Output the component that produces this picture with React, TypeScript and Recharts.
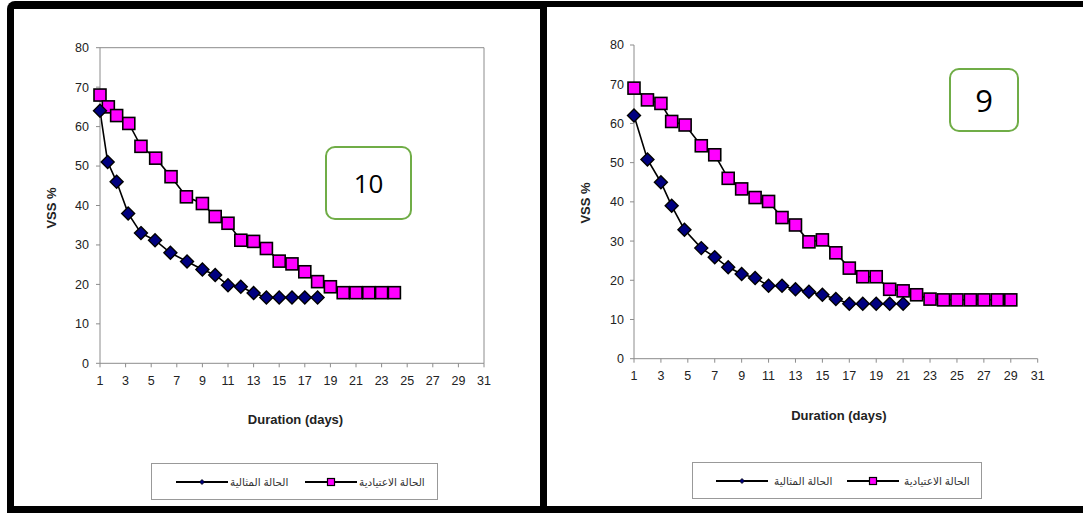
import React from 'react'
import { LineChart, Line, XAxis, YAxis, ReferenceLine } from 'recharts'

// left panel (10)
const leftOptimalDays = [1, 1.6, 2.3, 3.2, 4.2, 5.3, 6.5, 7.8, 9, 10, 11, 12, 13, 14, 15, 16, 17, 18]
const leftOptimalVss = [64, 51, 46, 38, 33, 31.2, 28, 25.8, 23.8, 22.4, 19.8, 19.4, 17.8, 16.7, 16.7, 16.7, 16.7, 16.7]
const leftNormalDays = [1, 1.65, 2.3, 3.25, 4.2, 5.35, 6.55, 7.75, 9, 10, 11, 12, 13, 14, 15, 16, 17, 18, 19, 20, 21, 22, 23, 24]
const leftNormalVss = [68, 65, 62.8, 60.8, 55, 52, 47.3, 42.2, 40.5, 37.2, 35.5, 31.2, 30.9, 29.1, 25.9, 25.2, 23.2, 20.7, 19.4, 17.9, 17.9, 17.9, 17.9, 17.9]

// right panel (9)
const rightOptimalDays = [1, 2, 3, 3.8, 4.75, 6, 7, 8, 9, 10, 11, 12, 13, 14, 15, 16, 17, 18, 19, 20, 21]
const rightOptimalVss = [62, 50.8, 45, 39, 32.9, 28.2, 25.9, 23.3, 21.6, 20.6, 18.6, 18.6, 17.7, 17.1, 16.3, 15.2, 14, 14, 14, 14, 14]
const rightNormalDays = [1, 2, 3, 3.8, 4.8, 6, 7, 8, 9, 10, 11, 12, 13, 14, 15, 16, 17, 18, 19, 20, 21, 22, 23, 24, 25, 26, 27, 28, 29]
const rightNormalVss = [69, 66, 65.1, 60.5, 59.6, 54.3, 52, 46, 43.3, 41.1, 40.1, 36, 34.1, 29.8, 30.3, 27, 23.1, 20.9, 20.9, 17.7, 17.3, 16.3, 15.2, 15, 15, 15, 15, 15, 15]

const xTicks = [1, 3, 5, 7, 9, 11, 13, 15, 17, 19, 21, 23, 25, 27, 29, 31]
const yTicks = [0, 10, 20, 30, 40, 50, 60, 70, 80]

const OPTIMAL_LABEL = 'الحالة المثالية'
const NORMAL_LABEL = 'الحالة الاعتيادية'

const PINK = '#ff00ff'
const NAVY = '#000080'
const AXIS = '#8c8c8c'
const FONT = 'Arial, "Liberation Sans", "DejaVu Sans", sans-serif'

const toPoints = (xs: number[], ys: number[]) => xs.map((x, i) => ({ x, y: ys[i] }))

const square = (props: any) => (
  <rect key={`sq-${props.index}`} x={props.cx - 6} y={props.cy - 6} width={12} height={12}
    fill={PINK} stroke="#000" strokeWidth={1.6} />
)

const diamond = (props: any) => {
  const { cx, cy } = props
  return (
    <path key={`dm-${props.index}`} d={`M${cx},${cy - 6.5}L${cx + 6.5},${cy}L${cx},${cy + 6.5}L${cx - 6.5},${cy}Z`}
      fill={NAVY} stroke="#000" strokeWidth={1.4} />
  )
}

interface PanelProps {
  left: number
  width: number
  margin: { top: number; right: number; left: number; bottom: number }
  tickMarginX: number
  tickMarginY: number
  optimal: { x: number; y: number }[]
  normal: { x: number; y: number }[]
  frame: boolean
}

function Panel({ left, width, margin, tickMarginX, tickMarginY, optimal, normal, frame }: PanelProps) {
  const tick = { fontSize: 12.5, fill: '#222', fontFamily: FONT }
  return (
    <div style={{ position: 'absolute', left, top: 0 }}>
      <LineChart width={width} height={400} margin={margin}>
        <XAxis type="number" dataKey="x" domain={[1, 31]} ticks={xTicks} interval={0}
          stroke={AXIS} tickSize={4} tickMargin={tickMarginX} height={30} tick={tick} />
        <YAxis type="number" dataKey="y" domain={[0, 80]} ticks={yTicks} interval={0}
          stroke={AXIS} tickSize={4} tickMargin={tickMarginY} width={40} tick={tick} />
        {frame && <ReferenceLine y={80} stroke={AXIS} strokeWidth={1} />}
        {frame && <ReferenceLine x={31} stroke={AXIS} strokeWidth={1} />}
        <Line data={normal} dataKey="y" stroke="#000" strokeWidth={1.6} dot={square}
          isAnimationActive={false} legendType="none" />
        <Line data={optimal} dataKey="y" stroke="#000" strokeWidth={1.6} dot={diamond}
          isAnimationActive={false} legendType="none" />
      </LineChart>
    </div>
  )
}

const textStyle: React.CSSProperties = {
  position: 'absolute', fontFamily: FONT, fontWeight: 'bold', fontSize: 13, color: '#222', whiteSpace: 'nowrap',
}

function AxisTitles({ xCx, xCy, yCx, yCy }: { xCx: number; xCy: number; yCx: number; yCy: number }) {
  return (
    <>
      <div style={{ ...textStyle, left: xCx, top: xCy, transform: 'translate(-50%, -50%)' }}>Duration (days)</div>
      <div style={{ ...textStyle, left: yCx, top: yCy, transform: 'translate(-50%, -50%) rotate(-90deg)' }}>VSS %</div>
    </>
  )
}

// offsets: [line1, text1, line2, text2] from the box's left edge
function LegendBox({ left, top, width, offsets }: { left: number; top: number; width: number; offsets: number[] }) {
  const label: React.CSSProperties = {
    position: 'absolute', top: 12, fontFamily: FONT, fontSize: 10.5, color: '#333', whiteSpace: 'nowrap', lineHeight: '12px',
  }
  const line = (x: number, marker: React.ReactNode) => (
    <svg width={52} height={10} style={{ position: 'absolute', left: x, top: 13 }}>
      <line x1={0} y1={5} x2={52} y2={5} stroke="#000" strokeWidth={2} />
      {marker}
    </svg>
  )
  return (
    <div style={{
      position: 'absolute', left, top, width, height: 37, boxSizing: 'border-box',
      border: '1px solid #999', background: '#fff',
    }}>
      {line(offsets[0], <path d="M26,2.5L28.5,5L26,7.5L23.5,5Z" fill={NAVY} stroke="#000" strokeWidth={0.8} />)}
      <span style={{ ...label, left: offsets[1] }}>{OPTIMAL_LABEL}</span>
      {line(offsets[2], <rect x={22.5} y={1.5} width={7} height={7} fill={PINK} stroke="#000" strokeWidth={1.2} />)}
      <span style={{ ...label, left: offsets[3] }}>{NORMAL_LABEL}</span>
    </div>
  )
}

function NumberBox({ left, top, width, height, text, size }: { left: number; top: number; width: number; height: number; text: string; size: number }) {
  return (
    <div style={{
      position: 'absolute', left, top, width, height, boxSizing: 'border-box',
      border: '2px solid #70ad47', borderRadius: 10, background: '#fff',
      display: 'flex', alignItems: 'center', justifyContent: 'center',
      fontFamily: '"Open Sans", sans-serif', fontSize: size, color: '#000',
    }}>{text}</div>
  )
}

export default function App() {
  return (
    <div style={{ position: 'absolute', left: 0, top: 0, width: 1083, height: 513, overflow: 'hidden', background: '#fff' }}>
      <div style={{ position: 'absolute', left: 7, top: 1, width: 1076, height: 512, background: '#000', borderTopLeftRadius: 8 }} />
      <div style={{ position: 'absolute', left: 14, top: 9, width: 526, height: 497, background: '#fff' }} />
      <div style={{ position: 'absolute', left: 547, top: 7, width: 536, height: 499, background: '#fff' }} />

      <Panel left={0} width={540} margin={{ top: 47.7, right: 56, left: 60, bottom: 6.7 }}
        tickMarginX={9} tickMarginY={7}
        optimal={toPoints(leftOptimalDays, leftOptimalVss)} normal={toPoints(leftNormalDays, leftNormalVss)} frame />
      <Panel left={547} width={536} margin={{ top: 45, right: 45.3, left: 47, bottom: 11.3 }}
        tickMarginX={8.5} tickMarginY={6}
        optimal={toPoints(rightOptimalDays, rightOptimalVss)} normal={toPoints(rightNormalDays, rightNormalVss)} frame={false} />

      <AxisTitles xCx={295.5} xCy={419} yCx={51} yCy={208} />
      <AxisTitles xCx={838.8} xCy={415} yCx={585} yCy={203} />

      <NumberBox left={325} top={146} width={87} height={74} text="10" size={26} />
      <NumberBox left={949} top={68} width={70} height={64} text="9" size={31} />

      <LegendBox left={151} top={463} width={287} offsets={[24, 78, 153, 207]} />
      <LegendBox left={692} top={462} width={290} offsets={[23, 81, 154, 211]} />
    </div>
  )
}
